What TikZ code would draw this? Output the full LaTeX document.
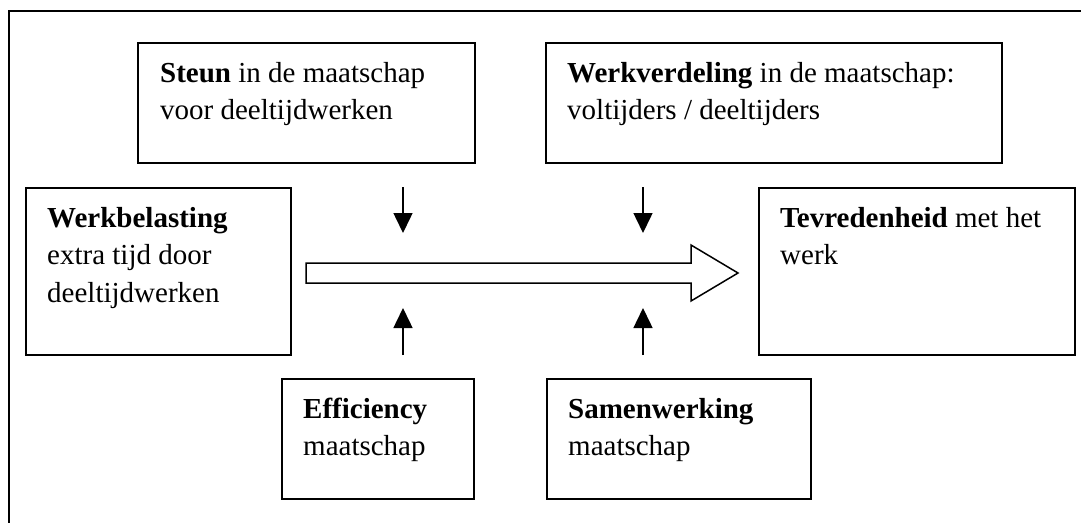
\documentclass[tikz,border=0pt]{standalone}
\usepackage{fontspec}
\setmainfont{Liberation Serif}
\usetikzlibrary{arrows.meta}
\begin{document}
\begin{tikzpicture}[x=1pt,y=-1pt,
  box/.style={draw, line width=1.5pt, anchor=north west, inner sep=0pt, outer sep=0pt},
  txt/.style={anchor=north west, inner sep=0pt, align=left, font=\fontsize{29}{37.7}\selectfont},
  pijl/.style={line width=1.5pt, -{Triangle[length=20pt,width=19pt]}},
  bigarrow/.style={line width=1.5pt, fill=white, line join=miter}]
\useasboundingbox (0,0) rectangle (1081,523);
% outer frame (only top and left edges visible)
\draw[line width=1.5pt] (1081,11) -- (9,11) -- (9,523);
% boxes
\node[box, minimum width=337pt, minimum height=120pt] (steun) at (138,43) {};
\node[box, minimum width=456pt, minimum height=120pt] (verdeling) at (546,43) {};
\node[box, minimum width=265pt, minimum height=167pt] (belasting) at (26,188) {};
\node[box, minimum width=316pt, minimum height=167pt] (tevreden) at (759,188) {};
\node[box, minimum width=192pt, minimum height=120pt] (efficiency) at (282,379) {};
\node[box, minimum width=264pt, minimum height=120pt] (samen) at (547,379) {};
% texts
\node[txt] (tsteun) at (160,55.6) {\strut\textbf{Steun} in de maatschap\\voor deeltijdwerken};
\node[txt] (tverdeling) at (567,55.6) {\strut\textbf{Werkverdeling} in de maatschap:\\voltijders / deeltijders};
\node[txt] (tbelasting) at (47,200.6) {\strut\textbf{Werkbelasting}\\extra tijd door\\deeltijdwerken};
\node[txt] (ttevreden) at (780,200.6) {\strut\textbf{Tevredenheid} met het\\werk};
\node[txt] (tefficiency) at (303,391.6) {\strut\textbf{Efficiency}\\maatschap};
\node[txt] (tsamen) at (568,391.6) {\strut\textbf{Samenwerking}\\maatschap};
% big hollow arrow
\draw[bigarrow] (306,263) -- (691,263) -- (691,245) -- (738,273) -- (691,301) -- (691,283) -- (306,283) -- cycle;
% small arrows
\coordinate (d1s) at (403,187); \coordinate (d1e) at (403,233);
\coordinate (d2s) at (643,187); \coordinate (d2e) at (643,233);
\coordinate (u1s) at (403,355); \coordinate (u1e) at (403,308);
\coordinate (u2s) at (643,355); \coordinate (u2e) at (643,308);
\draw[pijl] (d1s) -- (d1e);
\draw[pijl] (d2s) -- (d2e);
\draw[pijl] (u1s) -- (u1e);
\draw[pijl] (u2s) -- (u2e);
\end{tikzpicture}
\end{document}
